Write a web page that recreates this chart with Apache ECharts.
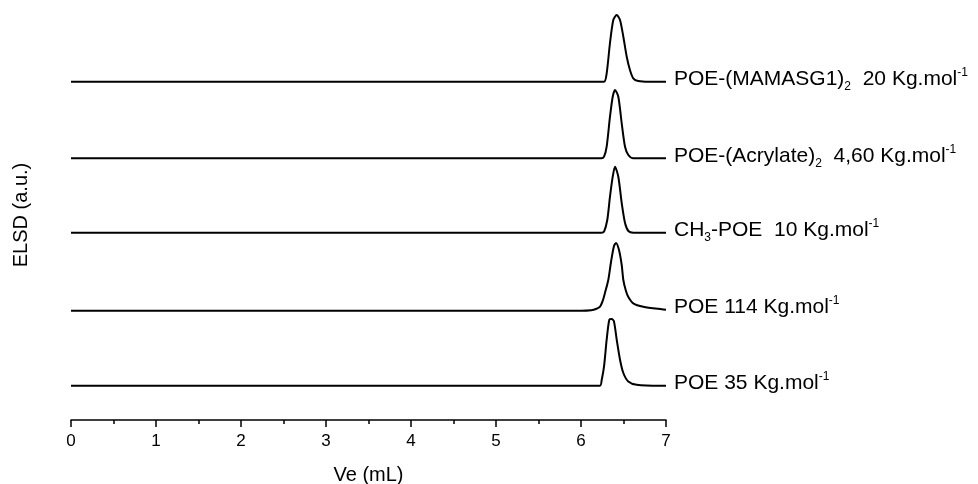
<!DOCTYPE html>
<html>
<head>
<meta charset="utf-8">
<script src="https://cdn.jsdelivr.net/npm/echarts@6/dist/echarts.min.js"></script>
<style>
    html, body { margin: 0; padding: 0; background: #fff; }
    #chart { width: 978px; height: 484px; }
</style>
</head>
<body>
<div id="chart"></div>
<script>
    // elution volume (mL) and ELSD signal (a.u.) of each trace
    const vePoe35 = [0, 6, 6.224, 6.244, 6.271, 6.302, 6.333, 6.361, 6.388, 6.420, 6.459, 6.498, 6.556, 6.655, 6.929, 7];
    const sigPoe35 = [0, 0, 0, 6, 19.3, 46, 66, 66.7, 64.3, 46, 26, 12.7, 4.3, 1, 0, 0];

    const vePoe114 = [0, 6, 6.12, 6.176, 6.224, 6.259, 6.282, 6.321, 6.353, 6.388, 6.412, 6.447, 6.479, 6.498, 6.529, 6.557, 6.615, 6.733, 6.949, 7];
    const sigPoe114 = [0, 0, 0.5, 1.7, 4, 10.7, 17.7, 30.7, 48.7, 64.7, 67.7, 60.7, 45.7, 30.7, 19.7, 13.7, 7.4, 4, 1.4, 1];

    const veCh3 = [0, 6, 6.240, 6.271, 6.309, 6.341, 6.373, 6.400, 6.439, 6.479, 6.518, 6.557, 6.615, 7];
    const sigCh3 = [0, 0, 0, 1, 12.7, 36, 56, 66, 56, 29.7, 9.7, 1.7, 0, 0];

    const veAcryl = [0, 6, 6.240, 6.271, 6.302, 6.341, 6.373, 6.400, 6.439, 6.479, 6.518, 6.557, 6.615, 7];
    const sigAcryl = [0, 0, 0, 1.6, 11.6, 41.6, 61.6, 68.3, 61.6, 35, 11.6, 3.3, 0, 0];

    const veMamasg = [0, 6, 6.271, 6.302, 6.341, 6.380, 6.420, 6.459, 6.498, 6.538, 6.576, 6.615, 6.674, 6.8, 7];
    const sigMamasg = [0, 0, 0, 8.4, 38.7, 61.7, 66.7, 61.7, 45, 25, 11.7, 3.4, 0.7, 0, 0];

    // vertical offset of each trace (stacked plot)
    const offsets = [34.3, 109.3, 187.3, 261.7, 338.3];

    const labels = [
        '{m|POE 35 Kg.mol}{sup|-1}',
        '{m|POE 114 Kg.mol}{sup|-1}',
        '{m|CH}{sub|3}{m|-POE  10 Kg.mol}{sup|-1}',
        '{m|POE-(Acrylate)}{sub|2}{m|  4,60 Kg.mol}{sup|-1}',
        '{m|POE-(MAMASG1)}{sub|2}{m|  20 Kg.mol}{sup|-1}'
    ];

    const traces = [
        [vePoe35, sigPoe35],
        [vePoe114, sigPoe114],
        [veCh3, sigCh3],
        [veAcryl, sigAcryl],
        [veMamasg, sigMamasg]
    ];

    const font = "'Liberation Sans', Arial, sans-serif";

    let myChart = echarts.init(document.getElementById('chart'));

    let series = traces.map(function (t, k) {
        return {
            type: 'line',
            data: t[0].map((v, i) => [v, t[1][i] + offsets[k]]),
            smooth: 0.25,
            symbol: 'none',
            lineStyle: { color: '#000', width: 2 },
            endLabel: {
                show: true,
                distance: 8,
                offset: [0, -2],
                formatter: labels[k],
                color: '#000',
                rich: {
                    m: { fontSize: 21, fontFamily: font, color: '#000', lineHeight: 26 },
                    sub: { fontSize: 12, fontFamily: font, color: '#000', lineHeight: 13, verticalAlign: 'bottom' },
                    sup: { fontSize: 12, fontFamily: font, color: '#000', lineHeight: 13, verticalAlign: 'top' }
                }
            }
        };
    });

    myChart.setOption({
        animation: false,
        backgroundColor: '#fff',
        grid: { left: 71, right: 312, top: 10, bottom: 64, outerBoundsMode: 'none', containLabel: false },
        xAxis: {
            type: 'value',
            min: 0,
            max: 7,
            interval: 1,
            name: 'Ve (mL)',
            nameLocation: 'middle',
            nameGap: 45,
            nameTextStyle: { fontSize: 20, fontFamily: font, color: '#000' },
            axisLine: { lineStyle: { color: '#000', width: 1.5 } },
            axisTick: { inside: false, length: 7, lineStyle: { color: '#000', width: 1.5 } },
            minorTick: { show: true, splitNumber: 2, length: 4, lineStyle: { color: '#000', width: 1.5 } },
            axisLabel: { fontSize: 17, fontFamily: font, color: '#000', margin: 13 },
            splitLine: { show: false }
        },
        yAxis: {
            type: 'value',
            min: 0,
            max: 410,
            name: 'ELSD (a.u.)',
            nameLocation: 'middle',
            nameGap: 40,
            nameTextStyle: { fontSize: 20, fontFamily: font, color: '#000' },
            axisLine: { show: false },
            axisTick: { show: false },
            axisLabel: { show: false },
            splitLine: { show: false }
        },
        series: series
    });
</script>
</body>
</html>
